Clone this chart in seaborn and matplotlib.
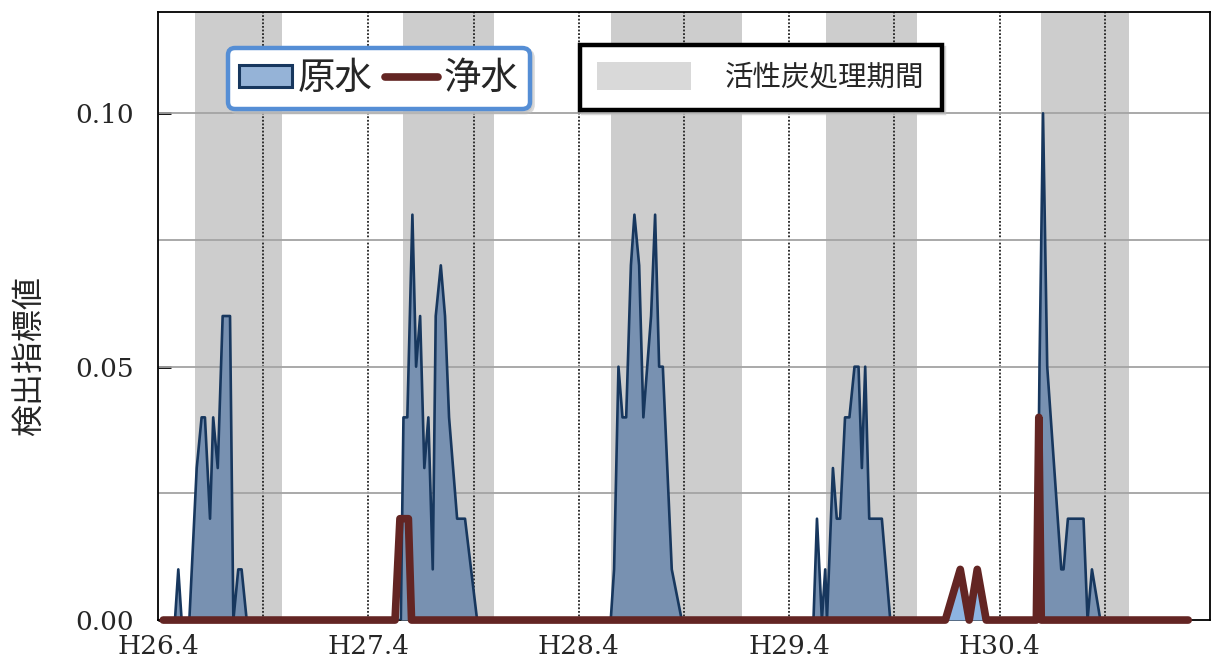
import matplotlib
matplotlib.use("Agg")
import matplotlib.pyplot as plt
import seaborn as sns
import numpy as np
from matplotlib.patches import Patch
from matplotlib.lines import Line2D
from matplotlib.ticker import FixedLocator

# months counted from H26.4
raw_x = [0.3, 0.97, 1.16, 1.35, 1.79, 2.21, 2.49, 2.68, 2.97, 3.15, 3.41, 3.69, 4.11, 4.30, 4.58, 4.77, 5.06,
         13.85, 14.0, 14.22, 14.51, 14.72, 14.95, 15.19, 15.42, 15.67, 15.84, 16.13, 16.37, 16.60, 16.83, 17.06, 17.51, 18.20,
         25.82, 26.01, 26.26, 26.49, 26.70, 26.97, 27.17, 27.44, 27.68, 28.12, 28.35, 28.58, 28.79, 29.30, 29.87,
         37.38, 37.58, 37.86, 38.05, 38.15, 38.49, 38.71, 38.90, 39.18, 39.43, 39.72, 39.95, 40.14, 40.33, 40.56, 41.28, 41.76,
         50.12, 50.27, 50.47, 50.71, 51.51, 51.64, 51.89, 52.78, 53.01, 53.26, 53.74, 58.75]
raw_y = [0, 0, 0.01, 0, 0, 0.03, 0.04, 0.04, 0.02, 0.04, 0.03, 0.06, 0.06, 0, 0.01, 0.01, 0,
         0, 0.04, 0.04, 0.08, 0.05, 0.06, 0.03, 0.04, 0.01, 0.06, 0.07, 0.06, 0.04, 0.03, 0.02, 0.02, 0,
         0, 0.01, 0.05, 0.04, 0.04, 0.07, 0.08, 0.07, 0.04, 0.06, 0.08, 0.05, 0.05, 0.01, 0,
         0, 0.02, 0, 0.01, 0, 0.03, 0.02, 0.02, 0.04, 0.04, 0.05, 0.05, 0.03, 0.05, 0.02, 0.02, 0,
         0, 0.05, 0.10, 0.05, 0.01, 0.01, 0.02, 0.02, 0, 0.01, 0, 0]

clean_x = [0.3, 13.52, 13.80, 14.28, 14.46, 44.9, 45.75, 46.26, 46.72, 47.23, 50.09, 50.23, 50.37, 58.75]
clean_y = [0, 0, 0.02, 0.02, 0, 0, 0.01, 0, 0.01, 0, 0, 0.04, 0, 0]

# activated carbon treatment periods (start, end) in months
carbon_start = [2.11, 13.95, 25.84, 38.09, 50.34]
carbon_end = [7.07, 19.17, 33.31, 43.30, 55.36]

tick_pos = [0, 12, 24, 36, 48]
tick_labels = ['H26.4', 'H27.4', 'H28.4', 'H29.4', 'H30.4']

sns.set_style('white')
plt.rcParams['font.family'] = ['Noto Sans CJK JP', 'DejaVu Sans']

fig = plt.figure(figsize=(12.15, 6.66), dpi=100)
ax = fig.add_axes([0.130, 0.069, 0.866, 0.913])

for s, e in zip(carbon_start, carbon_end):
    ax.axvspan(s, e, color='#cdcdcd', lw=0, zorder=0)

for m in range(6, 60, 6):
    ax.axvline(m, color='#222222', lw=1.3, linestyle=(0, (1, 1)), zorder=1)

for yv in [0.025, 0.05, 0.075, 0.10]:
    ax.axhline(yv, color='#a3a3a3', lw=1.3, zorder=1)

# raw water
ax.fill_between(raw_x, raw_y, 0, color='#7891b1', lw=0, zorder=3)
sns.lineplot(x=raw_x, y=raw_y, ax=ax, color='#17375e', lw=1.9, estimator=None, sort=False, zorder=4)

# treated water
cx = np.array(clean_x)
ax.fill_between(clean_x, clean_y, 0, where=(cx > 44) & (cx < 48), interpolate=True,
                color='#8db4e2', lw=0, zorder=5)
sns.lineplot(x=clean_x, y=clean_y, ax=ax, color='#632523', lw=5.5, estimator=None, sort=False,
             solid_joinstyle='round', solid_capstyle='round', clip_on=False, zorder=6)

ax.set_xlim(0, 60)
ax.set_ylim(0, 0.12)
ax.yaxis.set_major_locator(FixedLocator([0, 0.05, 0.10]))
ax.set_yticklabels(['0.00', '0.05', '0.10'], fontfamily='DejaVu Serif', fontsize=19)
ax.set_xticks(tick_pos)
ax.set_xticklabels(tick_labels, fontfamily='DejaVu Serif', fontsize=19)
ax.tick_params(axis='y', direction='in', length=9, width=2, color='black', pad=17, left=True)
ax.tick_params(axis='x', length=0, pad=10)
ax.set_ylabel('検出指標値', fontsize=23)
ax.yaxis.set_label_coords(-0.107, 0.434)
for sp in ax.spines.values():
    sp.set_visible(True)
    sp.set_color('black')
    sp.set_linewidth(1.3)
ax.set_xlabel('')

h1 = [Patch(facecolor='#95b3d7', edgecolor='#17375e', lw=2.2),
      Line2D([0], [0], color='#632523', lw=5.5, solid_capstyle='round')]
leg1 = ax.legend(h1, ['原水', '浄水'], loc='upper left', bbox_to_anchor=(0.0665, 0.941),
                 ncol=2, fontsize=27, handlelength=1.4, handleheight=0.55, handletextpad=0.15,
                 columnspacing=0.35, borderpad=0.3, borderaxespad=0, fancybox=True,
                 shadow={'color': '0.75', 'alpha': 0.6}, framealpha=1)
leg1.get_frame().set_edgecolor('#558ed5')
leg1.get_frame().set_linewidth(3.2)
leg1.set_zorder(10)
ax.add_artist(leg1)

h2 = [Patch(facecolor='#d9d9d9', edgecolor='none')]
leg2 = ax.legend(h2, ['活性炭処理期間'], loc='upper left', bbox_to_anchor=(0.401, 0.946),
                 fontsize=20.5, handlelength=3.3, handleheight=1.15, handletextpad=1.2,
                 borderpad=0.6, borderaxespad=0, fancybox=False,
                 shadow={'color': '0.75', 'alpha': 0.6}, framealpha=1)
leg2.get_frame().set_edgecolor('black')
leg2.get_frame().set_linewidth(3.2)
leg2.set_zorder(10)

fig.savefig('out.png', dpi=100)
